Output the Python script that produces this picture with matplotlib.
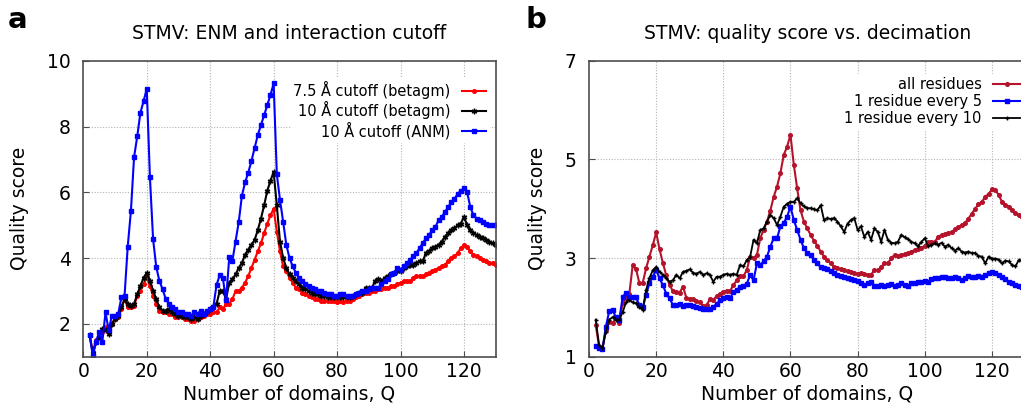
"""Quality score vs. number of domains for STMV (two panels)."""

import matplotlib
matplotlib.use("Agg")
import matplotlib.pyplot as plt

# Q runs 2..130 in both panels
Q_START = 2
Q_END = 130

# --- panel a: ENM and interaction cutoff -----------------------------------
cut75_betagm = [
    1.65, 1.15, 1.5, 1.6, 1.75, 1.9, 1.75, 2.0, 2.15, 2.2,
    2.45, 2.75, 2.5, 2.5, 2.55, 2.85, 3.0, 3.2, 3.42, 3.15,
    2.85, 2.6, 2.4, 2.35, 2.35, 2.3, 2.3, 2.2, 2.2, 2.2,
    2.15, 2.15, 2.1, 2.08, 2.15, 2.2, 2.25, 2.3, 2.3, 2.35,
    2.35, 2.5, 2.45, 2.6, 2.6, 2.75, 3.0, 3.0, 3.1, 3.25,
    3.45, 3.7, 3.95, 4.2, 4.45, 4.75, 5.05, 5.3, 5.5, 4.8,
    4.2, 3.75, 3.6, 3.4, 3.25, 3.1, 3.05, 2.95, 2.9, 2.85,
    2.8, 2.75, 2.75, 2.7, 2.7, 2.7, 2.7, 2.7, 2.65, 2.7,
    2.65, 2.7, 2.7, 2.75, 2.8, 2.85, 2.9, 2.95, 2.95, 3.0,
    3.0, 3.05, 3.05, 3.1, 3.1, 3.15, 3.15, 3.2, 3.25, 3.3,
    3.3, 3.3, 3.4, 3.45, 3.45, 3.45, 3.5, 3.55, 3.6, 3.65,
    3.7, 3.75, 3.8, 3.9, 4.0, 4.05, 4.15, 4.3, 4.4, 4.35,
    4.2, 4.1, 4.05, 4.0, 3.95, 3.9, 3.85, 3.85, 3.8,
]
cut10_betagm = [
    1.65, 1.1, 1.45, 1.6, 1.85, 1.8, 1.7, 2.0, 2.15, 2.25,
    2.5, 2.75, 2.6, 2.55, 2.6, 2.9, 3.15, 3.4, 3.55, 3.3,
    3.0, 2.75, 2.5, 2.4, 2.4, 2.45, 2.35, 2.3, 2.25, 2.25,
    2.2, 2.2, 2.15, 2.2, 2.15, 2.25, 2.3, 2.35, 2.45, 2.5,
    2.6, 3.0, 3.0, 2.75, 3.25, 3.35, 3.5, 3.7, 3.85, 4.1,
    4.25, 4.4, 4.55, 4.85, 5.2, 5.6, 6.05, 6.35, 6.62, 5.6,
    4.5, 4.0, 3.7, 3.5, 3.4, 3.3, 3.2, 3.1, 3.05, 3.0,
    2.95, 2.9, 2.9, 2.85, 2.85, 2.8, 2.8, 2.8, 2.8, 2.8,
    2.8, 2.8, 2.8, 2.85, 2.9, 2.95, 2.95, 3.1, 3.1, 3.1,
    3.3, 3.35, 3.3, 3.4, 3.45, 3.5, 3.55, 3.6, 3.6, 3.7,
    3.75, 3.8, 3.8, 3.85, 3.9, 3.9, 4.15, 4.2, 4.3, 4.35,
    4.4, 4.5, 4.65, 4.75, 4.85, 4.9, 5.0, 5.05, 5.25, 5.0,
    4.85, 4.75, 4.7, 4.65, 4.6, 4.55, 4.5, 4.45, 4.4,
]
cut10_anm = [
    1.65, 1.02, 1.45, 1.75, 1.45, 2.35, 1.8, 2.25, 2.25, 2.3,
    2.8, 2.85, 4.35, 5.42, 7.07, 7.7, 8.42, 8.77, 9.15, 6.45,
    4.57, 3.72, 3.3, 3.05, 2.75, 2.6, 2.5, 2.45, 2.35, 2.35,
    2.3, 2.3, 2.25, 2.35, 2.3, 2.4, 2.3, 2.4, 2.45, 2.52,
    3.18, 3.48, 3.38, 2.73, 4.02, 3.92, 4.5, 5.1, 5.9, 6.3,
    6.6, 6.95, 7.35, 7.74, 8.04, 8.35, 8.65, 8.96, 9.31, 6.55,
    5.77, 5.1, 4.4, 4.0, 3.75, 3.55, 3.4, 3.3, 3.2, 3.15,
    3.1, 3.05, 3.0, 3.0, 2.95, 2.9, 2.9, 2.85, 2.85, 2.9,
    2.9, 2.85, 2.85, 2.85, 2.9, 2.95, 3.0, 3.0, 3.05, 3.1,
    3.1, 3.1, 3.2, 3.3, 3.35, 3.5, 3.55, 3.7, 3.65, 3.75,
    3.85, 3.95, 4.05, 4.15, 4.3, 4.45, 4.6, 4.7, 4.85, 4.95,
    5.15, 5.25, 5.4, 5.55, 5.7, 5.8, 5.95, 6.05, 6.12, 6.0,
    5.55, 5.3, 5.2, 5.15, 5.1, 5.05, 5.0, 5.0, 5.0,
]

# --- panel b: decimation ----------------------------------------------------
all_residues = [
    1.64, 1.2, 1.16, 1.54, 1.71, 1.68, 1.78, 1.68, 2.09, 2.19,
    2.27, 2.85, 2.78, 2.49, 2.5, 2.79, 3.03, 3.26, 3.52, 3.18,
    2.9, 2.65, 2.45, 2.33, 2.32, 2.3, 2.42, 2.19, 2.17, 2.16,
    2.13, 2.1, 2.03, 2.04, 2.17, 2.15, 2.23, 2.27, 2.32, 2.34,
    2.33, 2.45, 2.55, 2.63, 2.63, 2.76, 3.03, 3.0, 3.06, 3.4,
    3.57, 3.74, 3.96, 4.24, 4.45, 4.72, 5.09, 5.26, 5.5, 4.89,
    4.41, 3.97, 3.74, 3.6, 3.47, 3.35, 3.25, 3.13, 3.03, 2.96,
    2.89, 2.82, 2.79, 2.77, 2.76, 2.73, 2.71, 2.69, 2.68, 2.69,
    2.68, 2.66, 2.66, 2.76, 2.75, 2.82, 2.89, 2.89, 3.0, 3.06,
    3.04, 3.06, 3.08, 3.1, 3.13, 3.16, 3.18, 3.2, 3.25, 3.33,
    3.33, 3.33, 3.43, 3.47, 3.48, 3.5, 3.53, 3.58, 3.63, 3.67,
    3.71, 3.8, 3.9, 4.0, 4.09, 4.14, 4.24, 4.3, 4.39, 4.38,
    4.28, 4.14, 4.07, 4.04, 3.97, 3.92, 3.87, 3.84, 3.82,
]
every5 = [
    1.22, 1.18, 1.15, 1.6, 1.92, 1.95, 1.8, 1.75, 2.2, 2.3,
    2.2, 2.2, 2.2, 2.05, 2.0, 2.25, 2.5, 2.62, 2.76, 2.59,
    2.45, 2.28, 2.18, 2.05, 2.05, 2.07, 2.03, 2.05, 2.05, 2.03,
    2.0, 1.98, 1.96, 1.96, 1.97, 2.01, 2.07, 2.14, 2.19, 2.22,
    2.18, 2.32, 2.35, 2.42, 2.43, 2.48, 2.66, 2.55, 2.89, 2.86,
    2.93, 3.03, 3.23, 3.4, 3.4, 3.64, 3.71, 3.84, 4.04, 3.77,
    3.57, 3.37, 3.2, 3.1, 3.06, 2.96, 2.89, 2.82, 2.79, 2.77,
    2.73, 2.69, 2.66, 2.64, 2.61, 2.59, 2.57, 2.55, 2.53, 2.49,
    2.45, 2.49, 2.52, 2.43, 2.43, 2.45, 2.43, 2.45, 2.47, 2.43,
    2.45, 2.49, 2.45, 2.43, 2.49, 2.5, 2.52, 2.52, 2.54, 2.52,
    2.57, 2.59, 2.59, 2.62, 2.61, 2.59, 2.59, 2.62, 2.59, 2.55,
    2.59, 2.64, 2.62, 2.62, 2.64, 2.62, 2.66, 2.69, 2.72, 2.69,
    2.66, 2.61, 2.57, 2.52, 2.49, 2.45, 2.43, 2.42, 2.41,
]
every10 = [
    1.75, 1.24, 1.17, 1.5, 1.75, 1.8, 1.75, 1.75, 1.9, 2.1,
    2.15, 2.1, 2.08, 2.0, 1.95, 2.35, 2.6, 2.75, 2.82, 2.72,
    2.66, 2.59, 2.52, 2.55, 2.66, 2.59, 2.72, 2.74, 2.77, 2.7,
    2.68, 2.72, 2.66, 2.69, 2.66, 2.52, 2.62, 2.62, 2.66, 2.68,
    2.66, 2.68, 2.66, 2.86, 2.83, 2.96, 3.03, 3.37, 3.3, 3.57,
    3.6, 3.74, 3.87, 3.81, 3.67, 3.84, 4.04, 4.1, 4.14, 4.14,
    4.21, 4.11, 4.05, 4.01, 4.01, 3.99, 3.97, 4.07, 3.77, 3.81,
    3.79, 3.81, 3.74, 3.64, 3.53, 3.7, 3.77, 3.81, 3.57, 3.64,
    3.43, 3.53, 3.37, 3.6, 3.53, 3.33, 3.57, 3.37, 3.31, 3.3,
    3.33, 3.47, 3.42, 3.38, 3.33, 3.3, 3.24, 3.33, 3.4, 3.24,
    3.27, 3.3, 3.27, 3.31, 3.23, 3.27, 3.2, 3.15, 3.2, 3.13,
    3.11, 3.13, 3.1, 3.1, 3.04, 3.03, 2.89, 3.03, 2.99, 2.99,
    2.97, 2.89, 2.95, 2.93, 2.86, 2.83, 2.96, 2.95, 2.95,
]

X_TICKS = [0, 20, 40, 60, 80, 100, 120]
Y_TICKS_A = [2, 4, 6, 8, 10]
Y_TICKS_B = [1, 3, 5, 7]

GRID_KW = dict(color="#b4b4b4", linestyle=(0, (1, 1.5)), linewidth=0.8)
LEGEND_KW = dict(loc="upper right", frameon=True, facecolor="white",
                 edgecolor="white", framealpha=1.0, fancybox=False,
                 markerfirst=False, fontsize=10.5, handletextpad=0.8,
                 labelspacing=0.14, borderpad=0.2, borderaxespad=0.2)


def _style_axes(ax, yticks, ylim):
    ax.set_xlim(0, 130)
    ax.set_ylim(*ylim)
    ax.set_xticks(X_TICKS)
    ax.set_yticks(yticks)
    ax.tick_params(axis="both", direction="in", length=4, width=0.8,
                   labelsize=13.5, color="0.3")
    ax.tick_params(axis="y", pad=9)
    ax.tick_params(axis="x", pad=4)
    for sp in ax.spines.values():
        sp.set_color("0.3")
        sp.set_linewidth(1.2)
    # gnuplot-style grid: skip lines that coincide with the border
    for x in X_TICKS[1:]:
        ax.axvline(x, zorder=0, **GRID_KW)
    for y in yticks:
        if ylim[0] < y < ylim[1]:
            ax.axhline(y, zorder=0, **GRID_KW)
    ax.set_xlabel("Number of domains, Q", fontsize=13.5, labelpad=2)
    ax.set_ylabel("Quality score", fontsize=13.5, labelpad=13)


def _right_aligned_legend(ax, anchor, handlelength):
    leg = ax.legend(bbox_to_anchor=anchor, handlelength=handlelength,
                    **LEGEND_KW)
    for t in leg.get_texts():
        t.set_ha("right")
    leg.set_zorder(5)


def main():
    plt.rcParams["font.family"] = "DejaVu Sans"
    fig = plt.figure(figsize=(10.21, 4.05), dpi=100)

    q = list(range(Q_START, Q_END + 1))

    # panel a
    ax = fig.add_axes([0.0816, 0.1193, 0.4039, 0.7307])
    ax.plot(q, cut75_betagm, color="#ff0000", lw=1.5, marker="o", ms=2.6,
            label="7.5 Å cutoff (betagm)")
    ax.plot(q, cut10_betagm, color="black", lw=1.5, marker=(6, 2, 0), ms=4,
            mew=1.0, label="10 Å cutoff (betagm)")
    ax.plot(q, cut10_anm, color="#0000ff", lw=1.5, marker="s", ms=3.2,
            label="10 Å cutoff (ANM)")
    _style_axes(ax, Y_TICKS_A, (1, 10))
    ax.set_title("STMV: ENM and interaction cutoff", fontsize=13.5, pad=16)
    _right_aligned_legend(ax, (0.99, 0.95), 1.6)

    # panel b (right border runs slightly past the image edge)
    bx = fig.add_axes([0.5769, 0.1193, 0.4275, 0.7307])
    bx.plot(q, all_residues, color="#b5122b", lw=1.5, marker="o", ms=2.6,
            label="all residues")
    bx.plot(q, every5, color="#0000ff", lw=1.5, marker="s", ms=3.0,
            label="1 residue every 5")
    bx.plot(q, every10, color="black", lw=1.3, marker="+", ms=3.5, mew=1.0,
            label="1 residue every 10")
    _style_axes(bx, Y_TICKS_B, (1, 7))
    bx.set_title("STMV: quality score vs. decimation", fontsize=13.5, pad=16)
    _right_aligned_legend(bx, (1.0, 0.965), 1.8)

    fig.text(0.008, 0.985, "a", fontsize=21, fontweight="bold", va="top")
    fig.text(0.515, 0.985, "b", fontsize=21, fontweight="bold", va="top")

    fig.savefig("out.png", dpi=100)
    plt.close(fig)


if __name__ == "__main__":
    main()
